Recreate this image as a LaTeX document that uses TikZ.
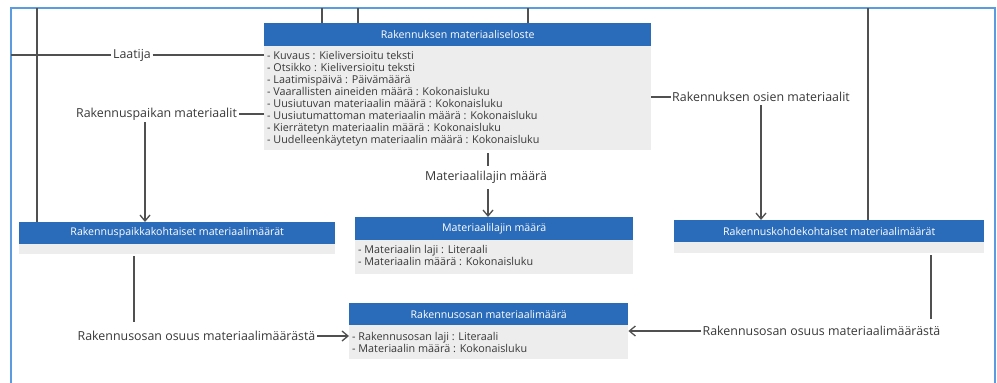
\documentclass[tikz,border=0pt]{standalone}
\usepackage{fontspec}
\setmainfont{Open Sans}
\usetikzlibrary{arrows.meta}
\definecolor{hblue}{HTML}{2B6CBA}
\definecolor{bgray}{HTML}{EDEDED}
\definecolor{lgray}{HTML}{505050}
\definecolor{tgray}{HTML}{383838}
\definecolor{fblue}{HTML}{5B9BE0}
\newcommand\attrfont{\fontsize{10.8}{12}\selectfont}
\newcommand\lblfont{\fontsize{12.4}{14}\selectfont}
\newcommand\hdrfont{\fontsize{10.6}{12}\selectfont}
\tikzset{
  hdr/.style={fill=hblue, text=white, minimum height=23, inner sep=0, anchor=north west, font=\hdrfont},
  bdy/.style={fill=bgray, anchor=north west, inner sep=0},
  attr/.style={anchor=base west, inner sep=0, font=\attrfont, text=tgray},
  lbl/.style={font=\lblfont, text=tgray, inner sep=1.5pt},
  conn/.style={draw=lgray, line width=1.1},
  arr/.style={conn, -{Straight Barb[length=6,width=10,line width=1.3]}}
}
\begin{document}
\begin{tikzpicture}[x=1pt,y=-1pt]
\useasboundingbox (0,0) rectangle (997,383);
% frame
\draw[fblue, line width=2] (11,390) -- (11,8) -- (995,8) -- (995,390);

% main class
\node[hdr, minimum width=387] (mainh) at (264,23) {Rakennuksen materiaaliseloste};
\node[bdy, minimum width=387, minimum height=104] (mainb) at (264,46) {};
\foreach \t [count=\i] in {
  - Kuvaus : Kieliversioitu teksti,
  - Otsikko : Kieliversioitu teksti,
  - Laatimispäivä : Päivämäärä,
  - Vaarallisten aineiden määrä : Kokonaisluku,
  - Uusiutuvan materiaalin määrä : Kokonaisluku,
  - Uusiutumattoman materiaalin määrä : Kokonaisluku,
  - Kierrätetyn materiaalin määrä : Kokonaisluku,
  - Uudelleenkäytetyn materiaalin määrä : Kokonaisluku}
  \node[attr] (m\i) at (267,{59+12*(\i-1)}) {\t};

% Rakennuspaikkakohtaiset
\node[hdr, minimum width=316, minimum height=22] (rph) at (19,222) {Rakennuspaikkakohtaiset materiaalimäärät};
\node[bdy, minimum width=316, minimum height=10] (rpb) at (19,244) {};

% Materiaalilajin maara
\node[hdr, minimum width=278] (mlh) at (355,217) {Materiaalilajin määrä};
\node[bdy, minimum width=278, minimum height=34] (mlb) at (355,240) {};
\node[attr] (ml1) at (358,253) {- Materiaalin laji : Literaali};
\node[attr] (ml2) at (358,265) {- Materiaalin määrä : Kokonaisluku};

% Rakennusosan materiaalimaara
\node[hdr, minimum width=279, minimum height=22] (roh) at (349,303) {Rakennusosan materiaalimäärä};
\node[bdy, minimum width=279, minimum height=34] (rob) at (349,325) {};
\node[attr] (ro1) at (352,340) {- Rakennusosan laji : Literaali};
\node[attr] (ro2) at (352,352) {- Materiaalin määrä : Kokonaisluku};

% Rakennuskohdekohtaiset
\node[hdr, minimum width=310, minimum height=22] (rkh) at (674,220) {Rakennuskohdekohtaiset materiaalimäärät};
\node[bdy, minimum width=310, minimum height=11] (rkb) at (674,242) {};

% top lines coming from outside
\coordinate (t1) at (37,8);
\coordinate (t2) at (322,8);
\coordinate (t3) at (358,8);
\coordinate (t4) at (528,8);
\coordinate (t5) at (868,8);
\draw[conn] (t1) -- (t1 |- rph.north);
\draw[conn] (t2) -- (t2 |- mainh.north);
\draw[conn] (t3) -- (t3 |- mainh.north);
\draw[conn] (t4) -- (t4 |- mainh.north);
\draw[conn] (t5) -- (t5 |- rkh.north);

% Laatija
\node[lbl] (laatija) at (132,55) {Laatija};
\coordinate (lft) at (11,55);
\draw[conn] (lft) -- (laatija.west);
\draw[conn] (laatija.east) -- (mainb.west |- laatija);

% Rakennuspaikan materiaalit
\node[lbl] (rpl) at (156.5,114) {Rakennuspaikan materiaalit};
\coordinate (c1) at (145,122);
\draw[conn] (mainb.west |- rpl) -- (rpl.east);
\draw[arr] (c1) -- (c1 |- rph.north);

% Materiaalilajin maara (association)
\node[lbl] (mll) at (486,177) {Materiaalilajin määrä};
\coordinate (c2) at (488,166);
\coordinate (c3) at (488,189);
\draw[conn] (c2 |- mainb.south) ++(0,3) -- (c2);
\draw[arr] (c3) -- (c3 |- mlh.north);

% Rakennuksen osien materiaalit
\node[lbl] (rol) at (761,97) {Rakennuksen osien materiaalit};
\coordinate (c4) at (761,105);
\draw[conn] (mainb.east |- rol) -- (rol.west);
\draw[arr] (c4) -- (c4 |- rkh.north);

% Rakennusosan osuus (left)
\node[lbl] (osl) at (196.5,336) {Rakennusosan osuus materiaalimäärästä};
\coordinate (c5) at (134,322);
\draw[conn] (c5 |- rpb.south) ++(0,2) -- (c5);
\draw[arr] (osl.east) -- (rob.west |- osl);

% Rakennusosan osuus (right)
\node[lbl] (osr) at (821.5,331) {Rakennusosan osuus materiaalimäärästä};
\coordinate (c6) at (931,319);
\draw[conn] (c6 |- rkb.south) ++(0,2) -- (c6);
\draw[arr] (osr.west) -- (rob.east |- osr);
\end{tikzpicture}
\end{document}
